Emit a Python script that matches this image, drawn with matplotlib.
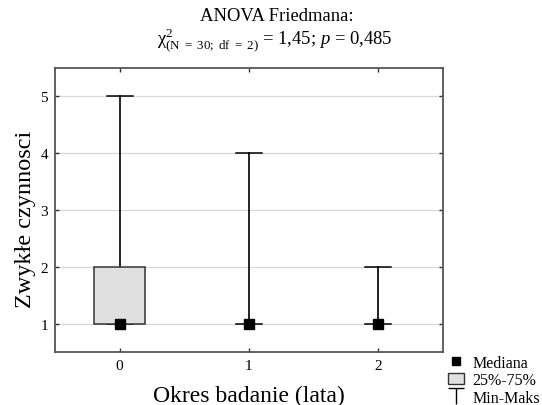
import numpy as np
import matplotlib.pyplot as plt
from matplotlib.path import Path
from matplotlib.patches import Rectangle
from matplotlib.lines import Line2D

plt.rcParams['font.family'] = ['Liberation Serif', 'DejaVu Serif']
plt.rcParams['mathtext.fontset'] = 'custom'
plt.rcParams['mathtext.rm'] = 'Liberation Serif'
plt.rcParams['mathtext.it'] = 'Liberation Serif:italic'

# okres badania (lata)
okres = [0, 1, 2]
mediana = [1, 1, 1]
q25 = [1, 1, 1]
q75 = [2, 1, 1]
minimum = [1, 1, 1]
maksimum = [5, 4, 2]

fig = plt.figure(figsize=(5.42, 4.06), dpi=100)
ax = fig.add_axes([0.1015, 0.1305, 0.7155, 0.6995])

box_w = 0.4
cap_w = 0.2
box_face = '#e0e0e0'

for x, med, lo, hi, mn, mx in zip(okres, mediana, q25, q75, minimum, maksimum):
    # wasy min-maks
    ax.plot([x, x], [hi, mx], color='#111111', lw=1.3, zorder=3)
    ax.plot([x, x], [mn, lo], color='#111111', lw=1.3, zorder=3)
    ax.plot([x - cap_w / 2, x + cap_w / 2], [mx, mx], color='black', lw=1.1, zorder=3)
    ax.plot([x - cap_w / 2, x + cap_w / 2], [mn, mn], color='black', lw=1.1, zorder=3)
    if hi > lo:
        ax.add_patch(Rectangle((x - box_w / 2, lo), box_w, hi - lo,
                               facecolor=box_face, edgecolor='#333333', lw=1.1, zorder=4))
    ax.plot(x, med, 's', color='black', ms=6.5, zorder=5)

ax.set_xlim(-0.5, 2.5)
ax.set_ylim(0.5, 5.5)
ax.set_xticks(okres)
ax.set_yticks([1, 2, 3, 4, 5])
ax.yaxis.grid(True, color='#d8d8d8', lw=0.9)
ax.set_axisbelow(True)
ax.tick_params(direction='in', length=3, width=1, colors='#333333',
               labelcolor='black', labelsize=11, top=True, right=True, pad=5)
for s in ax.spines.values():
    s.set_color('#555555')
    s.set_linewidth(1.3)

ax.set_xlabel('Okres badanie (lata)', fontsize=17, labelpad=9)
ax.set_ylabel('Zwykłe czynnosci', fontsize=17.5)
ax.yaxis.set_label_coords(-0.049, 0.47)

fig.text(0.51, 0.96, 'ANOVA Friedmana:', ha='center', va='center', fontsize=13.4)
fig.text(0.507, 0.90,
         r'$\mathrm{\chi}^2_{\mathrm{(N\ =\ 30;\ df\ =\ 2)}}$ = 1,45; $p$ = 0,485',
         ha='center', va='center', fontsize=13.4)

# legenda
t_marker = Path([(-1, 1), (1, 1), (0, 1), (0, -1)],
                [Path.MOVETO, Path.LINETO, Path.MOVETO, Path.LINETO])
handles = [
    Line2D([], [], marker='s', color='black', ls='none', ms=6),
    Rectangle((0, 0), 1, 1, facecolor=box_face, edgecolor='#333333', lw=1),
    Line2D([], [], marker=t_marker, color='black', ls='none', ms=12, mew=1),
]
fig.legend(handles, ['Mediana', '25%-75%', 'Min-Maks'],
           loc='upper left', bbox_to_anchor=(0.824, 0.128), frameon=False,
           fontsize=11.5, handlelength=1.0, handletextpad=0.5, labelspacing=0.1,
           borderpad=0.1, borderaxespad=0)

fig.savefig('out.png', dpi=100)
